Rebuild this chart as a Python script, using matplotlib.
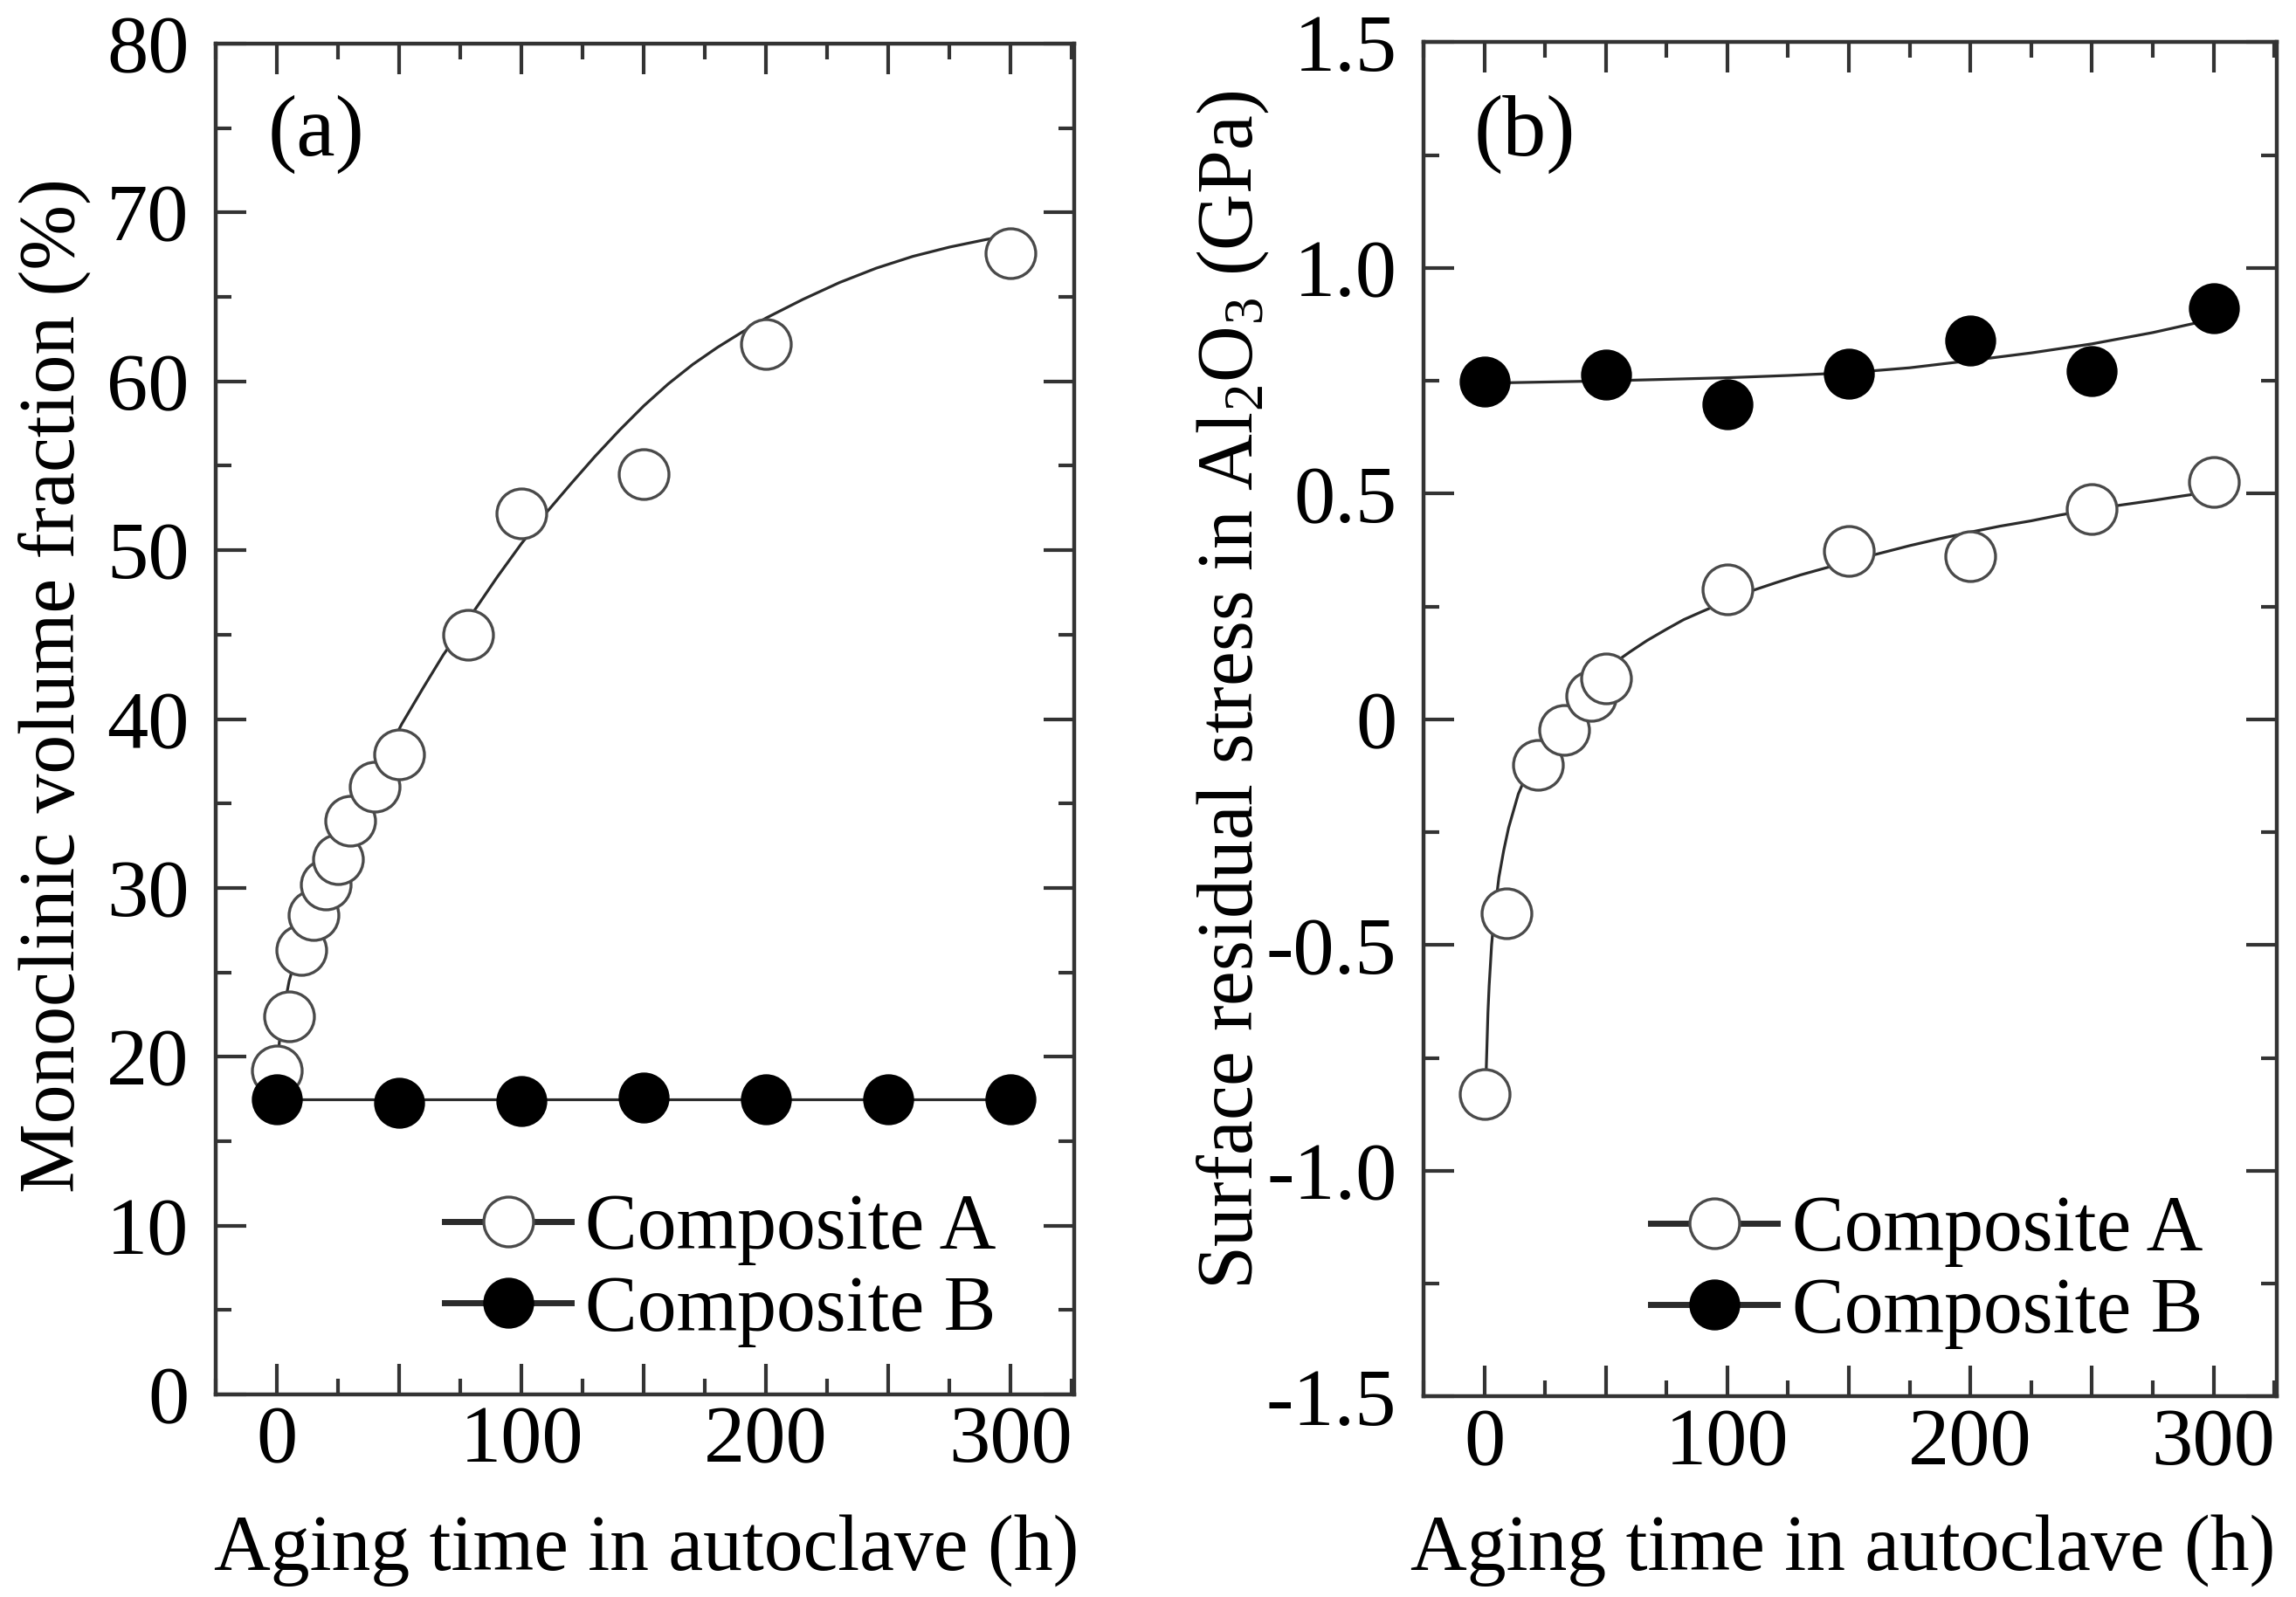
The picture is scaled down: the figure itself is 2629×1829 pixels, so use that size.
import numpy as np
import matplotlib
matplotlib.use('Agg')
import matplotlib.pyplot as plt
from matplotlib.ticker import MultipleLocator, FuncFormatter
from matplotlib.lines import Line2D

plt.rcParams['font.family'] = ['Liberation Serif', 'DejaVu Serif']
plt.rcParams['mathtext.fontset'] = 'custom'
plt.rcParams['mathtext.rm'] = 'Liberation Serif'

# (a) monoclinic volume fraction
a_xA = [0, 5, 10, 15, 20, 25, 30, 40, 50, 78, 100, 150, 200, 300]
a_yA = [19.2, 22.4, 26.3, 28.4, 30.2, 31.7, 34.0, 36.0, 37.9, 45.0, 52.2, 54.5, 62.2, 67.6]
a_xB = [0, 50, 100, 150, 200, 250, 300]
a_yB = [17.5, 17.3, 17.4, 17.6, 17.5, 17.5, 17.5]
# fitted curves
a_fitA_x = [0, 1, 3, 5, 10, 15, 20, 25, 30, 40, 51, 60, 68, 75, 82, 90, 100, 110, 120, 130,
            140, 150, 160, 170, 180, 190, 200, 215, 230, 245, 260, 275, 290, 300]
a_fitA_y = [19.3, 20.9, 23.0, 24.5, 27.0, 29.0, 30.8, 32.3, 33.7, 36.6, 39.7, 41.9, 43.8, 45.25,
            46.7, 48.4, 50.4, 52.2, 53.9, 55.55, 57.1, 58.55, 59.85, 61.0, 62.0, 62.9, 63.75,
            64.85, 65.85, 66.7, 67.4, 67.95, 68.4, 68.65]
a_fitB_x = [0, 300]
a_fitB_y = [17.5, 17.5]

# (b) surface residual stress in Al2O3
b_xA = [0, 9, 22, 33, 44, 50, 100, 150, 200, 250, 300]
b_yA = [-0.83, -0.43, -0.10, -0.023, 0.052, 0.091, 0.288, 0.373, 0.361, 0.467, 0.527]
b_xB = [0, 50, 100, 150, 200, 250, 300]
b_yB = [0.749, 0.763, 0.699, 0.766, 0.840, 0.772, 0.911]
b_fitA_x = [0.5, 1, 1.5, 2, 3, 4, 6, 8, 10, 14, 20, 25, 30, 35, 40, 45, 50, 55, 60, 67, 75,
            82, 90, 100, 110, 120, 130, 140, 150, 162, 175, 187, 200, 212, 225, 237, 250,
            262, 275, 287, 300]
b_fitA_y = [-0.83, -0.74, -0.65, -0.59, -0.50, -0.44, -0.35, -0.29, -0.24, -0.165, -0.09,
            -0.042, 0.0, 0.032, 0.06, 0.086, 0.11, 0.131, 0.15, 0.175, 0.20, 0.221, 0.24,
            0.263, 0.285, 0.303, 0.32, 0.335, 0.35, 0.367, 0.385, 0.40, 0.415, 0.428, 0.44,
            0.453, 0.465, 0.475, 0.485, 0.495, 0.505]
b_fitB_x = [0, 50, 100, 125, 150, 175, 200, 225, 250, 275, 300]
b_fitB_y = [0.745, 0.750, 0.757, 0.762, 0.768, 0.779, 0.795, 0.812, 0.832, 0.857, 0.887]

FS = 68
FL = 64.5
LC = '#2b2b2b'
MS = 41

fig = plt.figure(figsize=(26.29, 18.29), dpi=100)
axa = fig.add_axes([0.0940, 0.1268, 0.3739, 0.8459])
axb = fig.add_axes([0.6200, 0.1255, 0.3716, 0.8480])


def style(ax):
    ax.set_xlim(-25, 326)
    ax.xaxis.set_major_locator(MultipleLocator(50))
    ax.xaxis.set_minor_locator(MultipleLocator(25))
    ax.xaxis.set_major_formatter(FuncFormatter(lambda v, p: '%d' % v if abs(v % 100) < 1e-6 else ''))
    ax.tick_params(which='both', direction='in', top=True, right=True,
                   labelsize=FS, width=3, color='#333333')
    ax.tick_params(which='major', length=25)
    ax.tick_params(which='minor', length=13)
    ax.tick_params(axis='y', pad=22)
    ax.tick_params(axis='x', pad=9)
    for s in ax.spines.values():
        s.set_linewidth(3.2)
        s.set_color('#333333')


def draw(ax, fx_a, fy_a, fx_b, fy_b, xa, ya, xb, yb):
    ax.plot(fx_a, fy_a, '-', color=LC, lw=2.3, zorder=2)
    ax.plot(fx_b, fy_b, '-', color=LC, lw=2.3, zorder=2)
    ax.plot(xa, ya, 'o', ms=MS, mfc='white', mec='#4a4a4a', mew=2.4, zorder=3)
    ax.plot(xb, yb, 'o', ms=MS, mfc='black', mec='black', mew=1, zorder=3)
    handles = [Line2D([], [], color=LC, lw=5, marker='o', ms=MS, mfc='white', mec='#4a4a4a', mew=2.4),
               Line2D([], [], color=LC, lw=5, marker='o', ms=MS, mfc='black', mec='black', mew=1)]
    ax.legend(handles, ['Composite A', 'Composite B'], loc='center left',
              bbox_to_anchor=(0.2665, 0.092), frameon=False, fontsize=FL,
              handlelength=1.62, handletextpad=0.18, labelspacing=0.12,
              borderpad=0, borderaxespad=0)


draw(axa, a_fitA_x, a_fitA_y, a_fitB_x, a_fitB_y, a_xA, a_yA, a_xB, a_yB)
style(axa)
axa.set_ylim(0, 80)
axa.yaxis.set_major_locator(MultipleLocator(10))
axa.yaxis.set_minor_locator(MultipleLocator(5))
axa.text(0.117, 0.933, '(a)', transform=axa.transAxes, fontsize=72, ha='center', va='center')

draw(axb, b_fitA_x, b_fitA_y, b_fitB_x, b_fitB_y, b_xA, b_yA, b_xB, b_yB)
style(axb)
axb.set_ylim(-1.5, 1.5)
axb.yaxis.set_major_locator(MultipleLocator(0.5))
axb.yaxis.set_minor_locator(MultipleLocator(0.25))
axb.yaxis.set_major_formatter(FuncFormatter(lambda v, p: '0' if abs(v) < 1e-9 else '%.1f' % v))
axb.text(0.119, 0.932, '(b)', transform=axb.transAxes, fontsize=72, ha='center', va='center')

# axis titles
fig.text(740 / 2629, 1 - 1798 / 1829, 'Aging time in autoclave (h)', fontsize=FL,
         ha='center', va='baseline')
fig.text(2110 / 2629, 1 - 1798 / 1829, 'Aging time in autoclave (h)', fontsize=FL,
         ha='center', va='baseline')
fig.text(62 / 2629, 1 - 785 / 1829, 'Monoclinic volume fraction (%)', fontsize=FL,
         rotation=90, ha='center', va='center')
fig.text(1412 / 2629, 1 - 790 / 1829,
         r'Surface residual stress in Al$\mathregular{_2}$O$\mathregular{_3}$ (GPa)',
         fontsize=FL, rotation=90, ha='center', va='center')

fig.savefig('out.png', dpi=100)
